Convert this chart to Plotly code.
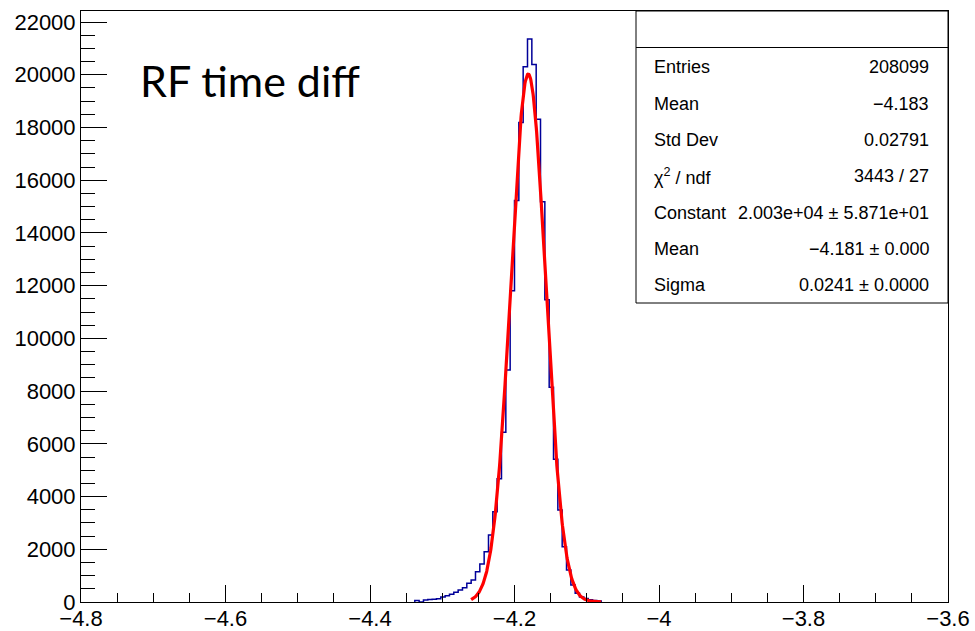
import numpy as np
import plotly.graph_objects as go

# ---------------- data ----------------
HIST_MIN = -4.8          # histogram axis lower edge
BIN_WIDTH = 0.006        # 200 bins over [-4.8, -3.6]
FIRST_BIN = 77           # index of first drawn bin
counts = [60, 0, 80, 95, 100, 120, 190, 240, 292, 367, 455, 544, 708, 834,
          1150, 1441, 1909, 2541, 3425, 4680, 6437, 8800, 11808, 15230,
          18190, 20305, 21355, 20395, 18310, 15183, 11470, 8144, 5413,
          3490, 2098, 1214, 645, 330, 190, 130, 90, 60, 40]

fit_constant = 20030.0
fit_mean = -4.181
fit_sigma = 0.0241
fit_range = [-4.26, -4.08]

x_tickvals = [-4.8, -4.6, -4.4, -4.2, -4.0, -3.8, -3.6]
x_ticktext = ["\u22124.8", "\u22124.6", "\u22124.4", "\u22124.2", "\u22124", "\u22123.8", "\u22123.6"]
y_tickvals = [0, 2000, 4000, 6000, 8000, 10000, 12000, 14000, 16000, 18000, 20000, 22000]
y_ticktext = [str(v) for v in y_tickvals]

stat_labels = ["Entries", "Mean", "Std Dev", "\u03c7<sup>2</sup> / ndf", "Constant", "Mean", "Sigma"]
stat_values = ["208099", "\u22124.183", "0.02791", "3443 / 27",
               "2.003e+04 \u00b1 5.871e+01", "\u22124.181 \u00b1 0.000", "0.0241 \u00b1 0.0000"]

title_text = "RF time diff"

# ---------------- build ----------------
n = len(counts)
edges = [round(HIST_MIN + BIN_WIDTH * (FIRST_BIN + i), 6) for i in range(n + 1)]
hx = [edges[0]] + edges
hy = [0] + counts + [0]

fx = np.linspace(fit_range[0], fit_range[1], 400)
fy = fit_constant * np.exp(-0.5 * ((fx - fit_mean) / fit_sigma) ** 2)

fig = go.Figure()
fig.add_trace(go.Scatter(x=hx, y=hy, mode="lines", line=dict(shape="hv", color="#000099", width=1.5),
                         hoverinfo="skip", showlegend=False))
fig.add_trace(go.Scatter(x=fx, y=fy, mode="lines", line=dict(color="#ff0000", width=3.2),
                         hoverinfo="skip", showlegend=False))

W, H = 975, 631
L, R, T, B = 81, 948, 11, 602
fig.update_layout(
    width=W, height=H,
    margin=dict(l=L, r=W - R, t=T, b=H - B, pad=0, autoexpand=False),
    paper_bgcolor="white", plot_bgcolor="white",
    font=dict(family="Liberation Sans, Arial, sans-serif", color="black"),
)
fig.update_xaxes(range=[-4.8, -3.6], tickmode="array", tickvals=x_tickvals, ticktext=x_ticktext,
                 ticks="inside", ticklen=17, tickwidth=1, tickcolor="black",
                 minor=dict(dtick=0.05, tick0=-4.8, ticks="inside", ticklen=9, tickwidth=1, tickcolor="black"),
                 showline=True, linecolor="black", linewidth=1, mirror=True, automargin=False,
                 ticklabelstandoff=-3,
                 showgrid=False, zeroline=False, tickfont=dict(size=22), layer="above traces")
fig.update_yaxes(range=[0, 22420], tickmode="array", tickvals=y_tickvals, ticktext=y_ticktext,
                 ticks="inside", ticklen=26, tickwidth=1, tickcolor="black",
                 minor=dict(dtick=500, tick0=0, ticks="inside", ticklen=14, tickwidth=1, tickcolor="black"),
                 showline=True, linecolor="black", linewidth=1, mirror=True, automargin=False,
                 showgrid=False, zeroline=False, tickfont=dict(size=22), layer="above traces")

def px(xp):
    return (xp - L) / (R - L)

def py(yp):
    return (B - yp) / (B - T)

# stats box
fig.add_shape(type="rect", xref="paper", yref="paper", x0=px(636), x1=px(948), y0=py(303), y1=py(11),
              line=dict(color="black", width=1), fillcolor="white", layer="above")
fig.add_shape(type="line", xref="paper", yref="paper", x0=px(636), x1=px(948), y0=py(47.5), y1=py(47.5),
              line=dict(color="black", width=1), layer="above")
for i, (lab, val) in enumerate(zip(stat_labels, stat_values)):
    yc = 67.3 + 36.3 * i
    fig.add_annotation(xref="paper", yref="paper", x=px(652), y=py(yc), text=lab, showarrow=False,
                       xanchor="left", yanchor="middle", font=dict(size=18, color="black"))
    fig.add_annotation(xref="paper", yref="paper", x=px(931), y=py(yc), text=val, showarrow=False,
                       xanchor="right", yanchor="middle", font=dict(size=18, color="black"))

fig.add_annotation(xref="paper", yref="paper", x=px(138), y=py(81), text=title_text, showarrow=False,
                   xanchor="left", yanchor="middle", font=dict(family="Lato, sans-serif", size=43, color="black"))

fig.write_html("out.html")
